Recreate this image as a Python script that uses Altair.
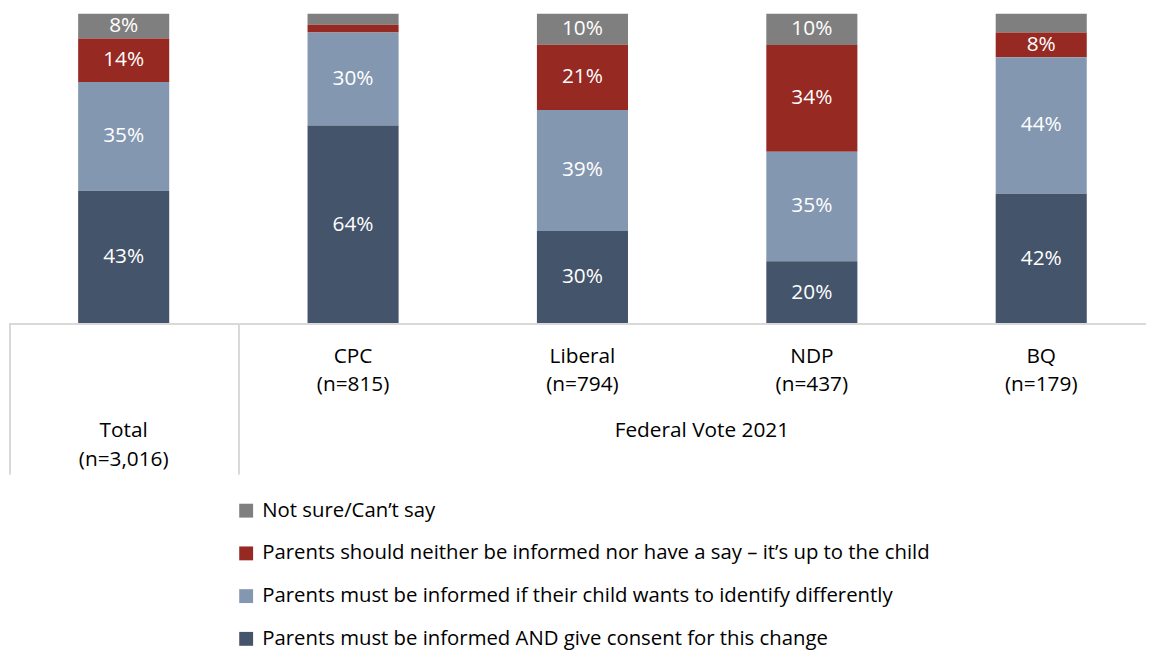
import altair as alt
import pandas as pd

groups = ["Total", "CPC", "Liberal", "NDP", "BQ"]
group_n = ["(n=3,016)", "(n=815)", "(n=794)", "(n=437)", "(n=179)"]
responses = [
    "Not sure/Can’t say",
    "Parents should neither be informed nor have a say – it’s up to the child",
    "Parents must be informed if their child wants to identify differently",
    "Parents must be informed AND give consent for this change",
]
colors = ["#7f7f7f", "#962922", "#8497b0", "#44546a"]
# values per group (Total, CPC, Liberal, NDP, BQ)
consent = [43, 64, 30, 20, 42]
informed = [35, 30, 39, 35, 44]
neither = [14, 2.5, 21, 34, 8]
notsure = [8, 3.5, 10, 10, 6]
super_label = "Federal Vote 2021"

series = [notsure, neither, informed, consent]
rows = []
for gi, g in enumerate(groups):
    for ri, r in enumerate(responses):
        rows.append({"group": g, "response": r, "value": series[ri][gi],
                     "order": 3 - ri})
df = pd.DataFrame(rows)
cat = pd.DataFrame({"group": groups, "n": group_n})

FONT = "Open Sans"
FS = 21
LFS = 20.5
W, H = 1147, 313

xscale = alt.Scale(domain=groups, range=[0, 1157], paddingInner=0.603, paddingOuter=0.3015)
yscale = alt.Scale(domain=[0, 1])

base = alt.Chart(df).transform_stack(
    stack="value", groupby=["group"], as_=["y0", "y1"], offset="normalize",
    sort=[alt.SortField("order", order="ascending")]
).transform_calculate(mid="(datum.y0 + datum.y1) / 2",
                      label="round(datum.value) + '%'")

bars = base.mark_bar().encode(
    x=alt.X("group:N", scale=xscale, axis=None),
    y=alt.Y("y0:Q", scale=yscale, axis=None, stack=None),
    y2="y1:Q",
    color=alt.Color("response:N",
                    scale=alt.Scale(domain=responses, range=colors),
                    legend=alt.Legend(title=None, orient="none", legendX=229, legendY=491,
                                      symbolType="square", symbolSize=196, symbolStrokeWidth=0,
                                      labelFontSize=LFS, labelFont=FONT, labelColor="#000000",
                                      labelLimit=1000, labelOffset=6, rowPadding=22.1,
                                      direction="vertical")),
)

labels = base.transform_filter("datum.value >= 7").mark_text(
    color="white", fontSize=FS, font=FONT, baseline="middle"
).encode(
    x=alt.X("group:N", scale=xscale, axis=None),
    y=alt.Y("mid:Q", scale=yscale, axis=None),
    text="label:N",
)

hline = alt.Chart(cat).mark_rule(color="#d9d9d9", strokeWidth=2).encode(
    x=alt.value(0), x2=alt.value(W), y=alt.value(H)
)
vline = alt.Chart(pd.DataFrame({"xpos": [1, 232]})).mark_rule(color="#d9d9d9", strokeWidth=2).encode(
    x=alt.X("xpos:Q", scale=None), y=alt.value(H), y2=alt.value(H + 152)
)

top_cats = cat[cat.group != "Total"]
name_txt = alt.Chart(top_cats).mark_text(fontSize=FS, font=FONT, color="#000000", baseline="middle").encode(
    x=alt.X("group:N", scale=xscale, axis=None), y=alt.value(346), text="group:N")
n_txt = alt.Chart(top_cats).mark_text(fontSize=FS, font=FONT, color="#000000", baseline="middle").encode(
    x=alt.X("group:N", scale=xscale, axis=None), y=alt.value(375), text="n:N")

tot = cat[cat.group == "Total"]
tot_name = alt.Chart(tot).mark_text(fontSize=FS, font=FONT, color="#000000", baseline="middle").encode(
    x=alt.X("group:N", scale=xscale, axis=None), y=alt.value(421), text="group:N")
tot_n = alt.Chart(tot).mark_text(fontSize=FS, font=FONT, color="#000000", baseline="middle").encode(
    x=alt.X("group:N", scale=xscale, axis=None), y=alt.value(450), text="n:N")

fed = alt.Chart(pd.DataFrame({"t": [super_label]})).mark_text(
    fontSize=FS, font=FONT, color="#000000", baseline="middle").encode(
    x=alt.value(699), y=alt.value(421), text="t:N")

chart = alt.layer(bars, labels, hline, vline, name_txt, n_txt, tot_name, tot_n, fed).properties(
    width=W, height=H, padding={"left": 0, "top": 3, "right": 0, "bottom": 0}
).configure(background="white").configure_view(stroke=None)

chart.save("out.html", embed_options={"renderer": "svg", "actions": False})
